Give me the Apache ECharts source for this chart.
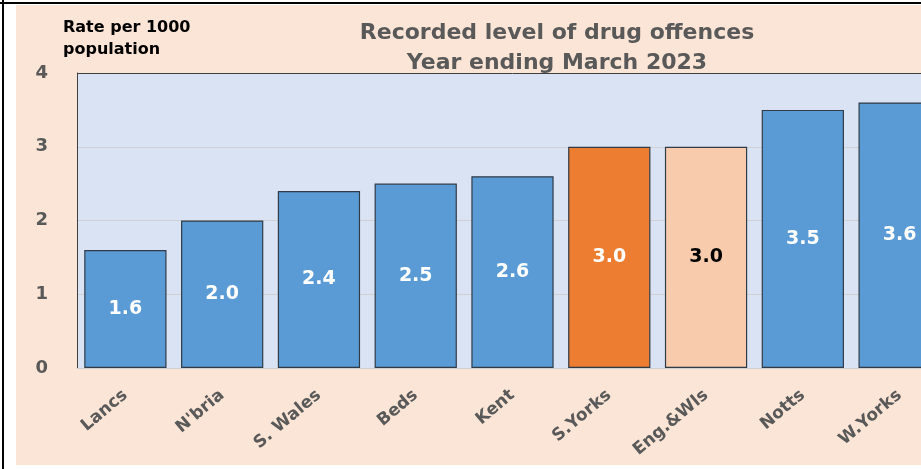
<!DOCTYPE html>
<html>
<head>
<meta charset="utf-8">
<script src="https://cdn.jsdelivr.net/npm/echarts@6/dist/echarts.min.js"></script>
<style>
  html, body { margin: 0; padding: 0; background: #fff; overflow: hidden; width: 921px; height: 469px; }
  .frame-top { position: absolute; left: 0; top: 2px; width: 921px; height: 2px; background: #000; }
  .frame-left { position: absolute; left: 2px; top: 0; width: 2px; height: 469px; background: #000; }
  #chart { position: absolute; left: 16px; top: 5px; width: 960px; height: 460px; }
</style>
</head>
<body>
<div class="frame-top"></div>
<div class="frame-left"></div>
<div id="chart"></div>
<script>
// chart data
const categories = ['Lancs', "N'bria", 'S. Wales', 'Beds', 'Kent', 'S.Yorks', 'Eng.&Wls', 'Notts', 'W.Yorks']
const rates = [1.6, 2.0, 2.4, 2.5, 2.6, 3.0, 3.0, 3.5, 3.6]
const yTicks = [0, 1, 2, 3, 4]

const BLUE = '#5b9bd5'
const ORANGE = '#ed7d31'
const PEACH = '#f8cbad'
const GREY_TEXT = '#595959'
const FONT = '"DejaVu Sans", sans-serif'

const chart = echarts.init(document.getElementById('chart'))

const barData = rates.map((v, i) => {
  const name = categories[i]
  if (name === 'S.Yorks') return { value: v, itemStyle: { color: ORANGE } }
  if (name === 'Eng.&Wls') return { value: v, itemStyle: { color: PEACH }, label: { color: '#000' } }
  return { value: v }
})

const option = {
  backgroundColor: '#fbe5d6',
  animation: false,
  grid: {
    left: 61,
    right: 28,
    top: 68,
    bottom: 97,
    containLabel: false,
    outerBoundsMode: 'none',
    show: true,
    backgroundColor: '#dae3f3',
    borderWidth: 0,
  },
  graphic: [
    {
      type: 'text',
      x: 541,
      y: 43,
      style: {
        text: 'Recorded level of drug offences\nYear ending March 2023',
        textAlign: 'center',
        textVerticalAlign: 'middle',
        fill: GREY_TEXT,
        font: 'bold 22px ' + FONT,
        lineHeight: 30,
      },
    },
    {
      type: 'text',
      x: 47,
      y: 12,
      style: {
        text: 'Rate per 1000\npopulation',
        fill: '#000',
        font: 'bold 16px ' + FONT,
        lineHeight: 22,
      },
    },
  ],
  xAxis: {
    type: 'category',
    data: categories,
    axisLine: { show: true, lineStyle: { color: '#d0d0d0', width: 1 } },
    axisTick: { show: false },
    axisLabel: {
      rotate: 40,
      margin: 25,
      interval: 0,
      color: GREY_TEXT,
      fontFamily: FONT,
      fontWeight: 'bold',
      fontSize: 17,
    },
  },
  yAxis: {
    type: 'value',
    min: yTicks[0],
    max: yTicks[yTicks.length - 1],
    interval: 1,
    axisLine: { show: true, lineStyle: { color: '#404040', width: 1 } },
    axisTick: { show: false },
    splitLine: {
      show: true,
      lineStyle: { color: ['#d0d0d0', '#d0d0d0', '#d0d0d0', '#d0d0d0', '#404040'], width: 1 },
    },
    axisLabel: {
      margin: 29,
      color: GREY_TEXT,
      fontFamily: FONT,
      fontWeight: 'bold',
      fontSize: 18,
    },
  },
  series: [
    {
      type: 'bar',
      data: barData,
      barCategoryGap: '15%',
      itemStyle: {
        color: BLUE,
        borderColor: '#2f3b47',
        borderWidth: 1.2,
      },
      label: {
        show: true,
        position: 'inside',
        color: '#fff',
        fontFamily: FONT,
        fontWeight: 'bold',
        fontSize: 19,
        formatter: (p) => p.value.toFixed(1),
      },
    },
  ],
}

chart.setOption(option)
</script>
</body>
</html>
